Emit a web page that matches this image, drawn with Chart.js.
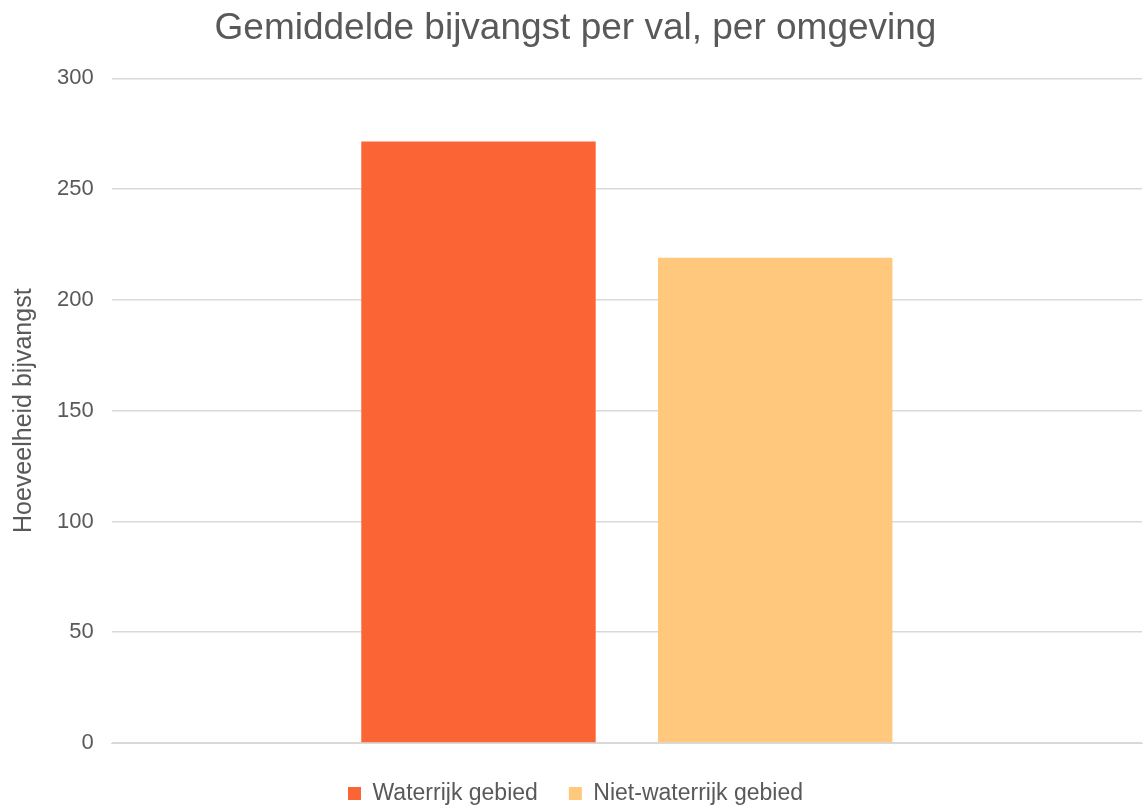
<!DOCTYPE html>
<html>
<head>
<meta charset="utf-8">
<script src="https://cdn.jsdelivr.net/npm/chart.js@4"></script>
<style>
  html, body { margin: 0; padding: 0; background: #fff; }
  #wrap { width: 1145px; height: 807px; }
</style>
</head>
<body>
<div id="wrap"><canvas id="Chart"></canvas></div>
<script>
const categories = [''];
const seriesNames = ['Waterrijk gebied', 'Niet-waterrijk gebied'];
const waterrijk = [271.5];
const nietWaterrijk = [219];
const seriesColors = ['#FB6535', '#FFC87D'];

const ctx = document.getElementById('Chart').getContext('2d');
const myChart = new Chart(ctx, {
    type: 'bar',
    data: {
        labels: categories,
        datasets: [{
            label: seriesNames[0],
            data: waterrijk,
            backgroundColor: seriesColors[0]
        }, {
            label: seriesNames[1],
            data: nietWaterrijk,
            backgroundColor: seriesColors[1]
        }]
    },
    options: {
        responsive: true,
        maintainAspectRatio: false,
        animation: false,
        datasets: {
            bar: {
                categoryPercentage: 0.576,
                barPercentage: 0.79
            }
        },
        layout: {
            padding: { top: 7, right: 3, left: 9, bottom: -8 }
        },
        plugins: {
            title: {
                display: true,
                text: 'Gemiddelde bijvangst per val, per omgeving',
                color: '#595959',
                font: { family: 'Liberation Sans', size: 37, weight: 'normal' },
                padding: { top: 0, bottom: 27 }
            },
            legend: {
                position: 'bottom',
                labels: {
                    color: '#595959',
                    font: { family: 'Liberation Sans', size: 23 },
                    boxWidth: 13,
                    boxHeight: 13,
                    padding: 31
                }
            },
            tooltip: { enabled: false }
        },
        scales: {
            x: {
                grid: { display: false },
                border: { display: true, color: '#d9d9d9', width: 1 },
                ticks: { display: false }
            },
            y: {
                min: 0,
                max: 300,
                ticks: {
                    stepSize: 50,
                    color: '#595959',
                    font: { family: 'Liberation Sans', size: 22 },
                    padding: 18
                },
                grid: { color: '#d9d9d9', lineWidth: 1.5, drawTicks: false },
                border: { display: false },
                title: {
                    display: true,
                    text: 'Hoeveelheid bijvangst',
                    color: '#595959',
                    font: { family: 'Liberation Sans', size: 25 },
                    padding: { top: 0, bottom: 0 }
                }
            }
        }
    }
});
</script>
</body>
</html>
